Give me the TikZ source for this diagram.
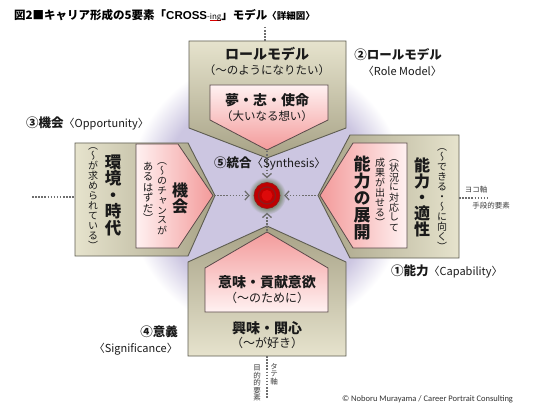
\documentclass[tikz,border=0pt]{standalone}
\usepackage{fontspec}
\setmainfont{Noto Sans CJK JP}
\newfontfamily\jpv[RawFeature=+vert]{Noto Sans CJK JP}
\newfontfamily\latf{Carlito}
\newfontfamily\arialf{Liberation Sans}
\usetikzlibrary{arrows.meta}

\definecolor{tanL}{HTML}{E6E3CD}
\definecolor{tanD}{HTML}{A7A286}
\definecolor{pinkL}{HTML}{FFF1F1}
\definecolor{pinkD}{HTML}{F39A9A}
\definecolor{lav}{HTML}{CCC6E1}
\definecolor{edgec}{HTML}{5E5D52}
\definecolor{pedge}{HTML}{5A4A4A}
\definecolor{dotc}{HTML}{6E6E6E}
\definecolor{glowc}{HTML}{7F8C78}
\definecolor{coreR}{HTML}{C00000}
\definecolor{coreRing}{HTML}{8E1B1B}
\definecolor{coreIn}{HTML}{DD0A0A}
\definecolor{txt}{HTML}{1A1A1A}

\pgfdeclareradialshading{lavglow}{\pgfpointorigin}{color(0bp)=(lav); color(19bp)=(lav); color(25bp)=(white); color(50bp)=(white)}
\pgfdeclareradialshading{coreglow}{\pgfpointorigin}{color(0bp)=(glowc); color(17bp)=(glowc); color(25bp)=(lav); color(50bp)=(lav)}

\makeatletter
\newcommand\vcol[1]{\vbox{\offinterlineskip\@tfor\vc@ch:=#1\do{\hbox to 1em{\hss\vrule height .88em depth .12em width 0pt\vc@ch\hss}}}}
\makeatother
\newcommand\fsz[1]{\fontsize{#1}{#1}\selectfont}
\newcommand\redul[1]{\setbox0\hbox{#1}\rlap{\color{red!85!black}\raisebox{-1.6pt}{\rule{\wd0}{0.5pt}}}\box0}

\begin{document}
\begin{tikzpicture}[x=1pt,y=-1pt,
  tanbox/.style={draw=edgec, line width=0.9pt, line join=miter},
  pinkbox/.style={draw=pedge, line width=0.8pt, line join=miter},
  dotline/.style={draw=dotc, line width=1.5pt, dash pattern=on 1.5pt off 1.6pt},
  flowarrow/.style={dotline, -{Straight Barb[length=4pt,width=9pt,line width=1.3pt]}},
  hlab/.style={inner sep=0, text=txt},
  vlab/.style={inner sep=0, text=txt},
  smalllab/.style={inner sep=0, text=black!75}
]
\useasboundingbox (0,0) rectangle (550,412);
\fill[white] (0,0) rectangle (550,412);

% background glow
\shade[shading=lavglow] (267,195) circle (140pt);

% tan boxes
\path[tanbox, top color=tanL, bottom color=tanD] (189,41) -- (346,41) -- (346,128) -- (267,158) -- (189,128) -- cycle;
\path[tanbox, top color=tanD, bottom color=tanL] (188,262) -- (267,226) -- (346,262) -- (346,356) -- (188,356) -- cycle;
\path[tanbox, left color=tanL, right color=tanD] (75,143) -- (188,143) -- (215,195.5) -- (188,256) -- (75,256) -- cycle;
\path[tanbox, left color=tanD, right color=tanL] (350,135) -- (459,135) -- (459,258) -- (350,258) -- (318,195.5) -- cycle;

% pink boxes
\path[pinkbox, top color=pinkL, bottom color=pinkD] (210,85) -- (328,85) -- (328,120) -- (267,150) -- (210,120) -- cycle;
\path[pinkbox, top color=pinkD, bottom color=pinkL] (205,268) -- (267,232) -- (328,268) -- (328,312) -- (205,312) -- cycle;
\path[pinkbox, left color=pinkL, right color=pinkD] (136,144) -- (178,144) -- (213,195.5) -- (178,248) -- (136,248) -- cycle;
\path[pinkbox, left color=pinkD, right color=pinkL] (353,143) -- (407,143) -- (407,248) -- (353,248) -- (320,195.5) -- cycle;

% tips and axis ends
\coordinate (tipT) at (267,151);
\coordinate (tipB) at (267,231);
\coordinate (tipL) at (214,195.5);
\coordinate (tipR) at (319,195.5);
\coordinate (axTa) at (265,27);
\coordinate (axTb) at (265,41);
\coordinate (axLa) at (32,197);
\coordinate (axLb) at (75,197);
\coordinate (axRa) at (459,198);
\coordinate (axRb) at (488,198);
\coordinate (axBa) at (267,356);
\coordinate (axBb) at (267,398);

% core
\shade[shading=coreglow] (267,195.5) circle (19pt);
\node[circle, minimum size=34pt, inner sep=0] (core) at (267,195.5) {};
\fill[coreR, draw=coreRing, line width=0.6pt] (core.center) circle (13pt);
\draw[coreRing, line width=1.3pt] (core.center) circle (8.5pt);
\fill[coreIn] (core.center) circle (5.5pt);

% dotted lines
\draw[dotline] (axTa) -- (axTb);
\draw[dotline] (axLa) -- (axLb);
\draw[dotline] (axRa) -- (axRb);
\draw[dotline] (axBa) -- (axBb);
\draw[flowarrow] (tipT) -- (core);
\draw[flowarrow] (tipB) -- (core);
\draw[flowarrow] (tipL) -- (core);
\draw[flowarrow] (tipR) -- (core);

% title
\node[hlab, anchor=west, text=black] (title) at (14,15) {\fsz{11.5}\bfseries 図2■キャリア形成の5要素「{\arialf\fsz{11.5}CROSS}{\fsz{8}\mdseries -\redul{ing}}」モデル{\fsz{9.5}〈詳細図〉}};

% top box texts
\node[hlab, font=\fsz{14}\bfseries] (roleT) at (267,54) {ロールモデル};
\node[hlab, font=\fsz{11.5}] (roleS) at (267,70) {（〜のようになりたい）};
\node[hlab, font=\fsz{14}\bfseries] (dreamT) at (267,100) {夢・志・使命};
\node[hlab, font=\fsz{11.5}] (dreamS) at (267,116) {（大いなる想い）};

% bottom box texts
\node[hlab, font=\fsz{14}\bfseries] (meanT) at (267,282) {意味・貢献意欲};
\node[hlab, font=\fsz{12}] (meanS) at (267,298) {（〜のために）};
\node[hlab, font=\fsz{14}\bfseries] (intT) at (267,328) {興味・関心};
\node[hlab, font=\fsz{12}] (intS) at (267,343) {（〜が好き）};

% left box texts
\node[vlab, font=\jpv\fsz{16.5}\bfseries] (envT) at (113,195) {\vcol{環境・時代}};
\node[vlab, font=\jpv\fsz{10}] (envS) at (93,196) {\vcol{（〜が求められている）}};
\node[vlab, font=\jpv\fsz{16}\bfseries] (oppT) at (180,198) {\vcol{機会}};
\node[vlab, font=\jpv\fsz{10}, anchor=north] (oppS1) at (162,155) {\vcol{（〜のチャンスが}};
\node[vlab, font=\jpv\fsz{10.5}, anchor=north] (oppS2) at (148,161) {\vcol{あるはずだ）}};

% right box texts
\node[vlab, font=\jpv\fsz{17}\bfseries] (capT) at (362,198) {\vcol{能力の展開}};
\node[vlab, font=\jpv\fsz{10}, anchor=north] (capS1) at (394,152) {\vcol{（状況に対応して}};
\node[vlab, font=\jpv\fsz{10}, anchor=north] (capS2) at (380,157) {\vcol{成果が出せる）}};
\node[vlab, font=\jpv\fsz{16}\bfseries] (aptT) at (422,197) {\vcol{能力・適性}};
\node[vlab, font=\jpv\fsz{10}] (aptS) at (442,197) {\vcol{（〜できる・〜に向く）}};

% element labels
\node[hlab, anchor=east, font=\fsz{12.5}\bfseries] (lab2) at (442,55) {②ロールモデル};
\node[hlab, anchor=east, font=\fsz{11}] (lab2e) at (442,71) {〈Role Model〉};
\node[hlab, anchor=west] (lab3) at (26,123) {{\fsz{12.5}\bfseries ③機会}{\fsz{11}〈Opportunity〉}};
\node[hlab] (lab5) at (270,164) {{\fsz{12.5}\bfseries ⑤統合}{\fsz{11.5}〈Synthesis〉}};
\node[hlab, anchor=west] (lab1) at (391,271) {{\fsz{12.5}\bfseries ①能力}{\fsz{11}〈Capability〉}};
\node[hlab, anchor=east, font=\fsz{12.5}\bfseries] (lab4) at (178,332) {④意義};
\node[hlab, anchor=east, font=\fsz{11}] (lab4e) at (178,349) {〈Significance〉};

% axis labels
\node[smalllab, font=\fsz{7.5}] (yoko) at (476,190) {ヨコ軸};
\node[smalllab, font=\fsz{7.5}] (shudan) at (491,206) {手段的要素};
\node[smalllab, font=\jpv\fsz{7.5}] (tate) at (274,374) {\vcol{タテ軸}};
\node[smalllab, font=\jpv\fsz{7.5}] (mokuteki) at (257,383) {\vcol{目的的要素}};

% copyright
\node[hlab, anchor=west, font=\latf\fsz{8.5}, text=black!80] (copy) at (342,399) {© Noboru Murayama / Career Portrait Consulting};
\end{tikzpicture}
\end{document}
